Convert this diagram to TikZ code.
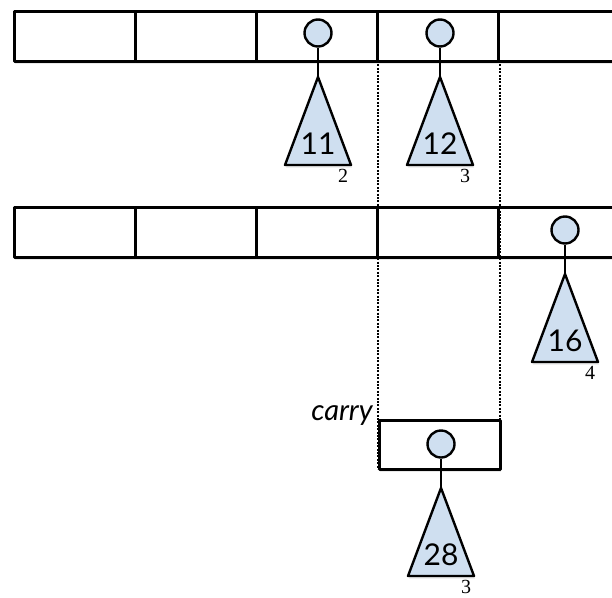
\documentclass[tikz,border=0pt]{standalone}
\usepackage{fontspec}
\setmainfont{Lato}
\newfontfamily\sizefont{Liberation Serif}
\usetikzlibrary{shadows}
\definecolor{treeblue}{RGB}{207,223,240}
\begin{document}
\begin{tikzpicture}[x=1pt,y=-1pt,line join=round,
	slot/.style={line width=3pt,fill=white,drop shadow={opacity=.18,shadow xshift=1pt,shadow yshift=-2.5pt}},
	root/.style={circle,draw,fill=treeblue,line width=2.4pt,minimum size=27pt,inner sep=0pt},
	tree/.style={draw,fill=treeblue,line width=2.4pt,drop shadow={opacity=.18,shadow xshift=1pt,shadow yshift=-2.5pt}},
	rank/.style={font=\fontsize{30}{30}\selectfont,inner sep=0pt},
	size/.style={font=\sizefont\fontsize{20}{20}\selectfont,inner sep=0pt},
	guide/.style={line width=2.6pt,dash pattern=on 2pt off 1.4pt}]
	\useasboundingbox (0,0) rectangle (612,597);
	\clip (0,0) rectangle (612,597);
	\def\w{121.2}
	% the two rows
	\foreach \y in {11,207}
	\foreach \i in {0,...,4}
	\draw[slot] (14+\i*\w,\y) rectangle ++(\w,50);
	% carry slot
	\draw[slot] (379,420) coordinate (ctl) rectangle (500,469) coordinate (cbr);
	\node[anchor=base east,font=\itshape\fontsize{29}{29}\selectfont,inner sep=0pt] (carry) at (373,420) {carry};
	% dotted guides
	\path
	(378,61) coordinate (g1)
	(378,469) coordinate (g2)
	(500,61) coordinate (h1)
	(500,469) coordinate (h2)
	;
	\draw[guide] (g1)--(g2);
	\draw[guide] (h1)--(h2);
	% trees
	\foreach \n/\x/\y/\s in {11/318/33/2,12/440/33/3,16/565/230/4,28/441/444/3}{
		\coordinate (a\n) at (\x,\y+44);
		\draw[tree] (a\n) -- ++(-33,88) -- ++(66,0) -- cycle;
		\node[root] (r\n) at (\x,\y) {};
		\draw[line width=2.4pt] (r\n) -- (a\n);
		\node[rank] (k\n) at (\x,\y+111) {\n};
		\node[size] (s\n) at (\x+25,\y+143) {\s};
	}
\end{tikzpicture}
\end{document}
